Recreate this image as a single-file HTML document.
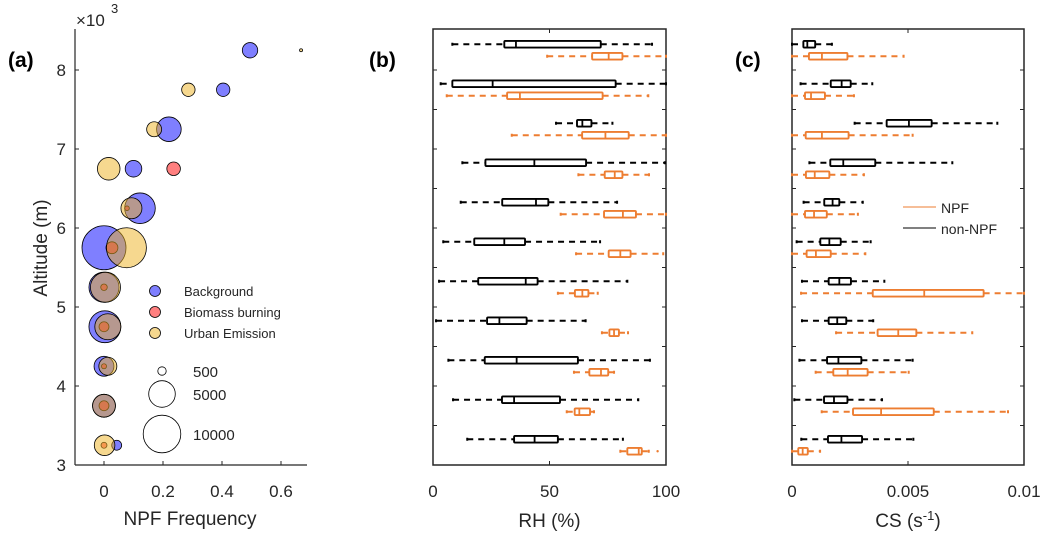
<!DOCTYPE html>
<html><head><meta charset="utf-8"><style>
body{margin:0;background:#fff;}
svg text{font-family:"Liberation Sans",sans-serif;fill:#262626;}
</style></head><body>
<svg id="chart" width="1050" height="543" xmlns="http://www.w3.org/2000/svg">
<g id="pa"></g>
<g id="pb"></g>
<g id="pc"></g>
</svg>
<script>
// ---- data ----
const altitudes=[8.25,7.75,7.25,6.75,6.25,5.75,5.25,4.75,4.25,3.75,3.25];
const bgFreq=[0.495,0.404,0.22,0.10,0.122,0.0,0.0,0.003,0.0,0.0,0.043];
const bgCount=[1680,1270,4280,1950,6620,13700,6400,7200,2800,3700,700];
const bbAlt=[6.75,6.25,5.75,5.25,4.75,4.25,3.75,3.25];
const bbFreq=[0.236,0.078,0.027,0.0,0.0,0.0,0.0,0.0];
const bbCount=[1300,150,1000,300,700,180,700,250];
const ueAlt=[8.25,7.75,7.25,6.75,6.25,5.75,5.25,4.75,4.25,3.75,3.25];
const ueFreq=[0.668,0.286,0.17,0.016,0.093,0.076,0.005,0.013,0.013,0.0,0.002];
const ueCount=[64,1270,1590,3610,3120,11300,6400,4800,2300,3700,3000];
const rhNon=[[8.3,30.6,35.6,72,94],[3.3,8.3,25.6,78.4,100],[52.8,61.8,64.1,68,77],[12.6,22.5,43.5,65.7,99.6],[11.9,29.7,44.2,49.5,79],[4.4,17.7,30.6,39.5,71.7],[2.6,19.4,39.8,44.9,83.4],[1.3,23.2,28.5,40.2,65.5],[6.6,22.2,35.9,62.2,93.1],[8.6,29.6,34.8,54.5,88.1],[14.7,34.8,43.6,53.6,81.5]];
const rhNpf=[[49,68.3,75.4,81.3,100],[5.9,31.8,37.3,72.8,92.4],[33.8,64,74,84,100],[62.4,73.7,78,81.3,92.7],[54.8,73.4,81.5,87.1,100],[61.4,75.4,80.4,84.8,98.8],[53.6,60.9,64.1,66.7,70.7],[72.5,75.7,77.7,79.8,83.7],[60.5,67.1,72.1,75.2,77.7],[57.4,60.8,62.8,67.4,69.1],[80.4,83.4,88.3,89.6,92.6]];
const rhOutliers=[[3.25,96.4]];
const csNon=[[0,0.00049,0.00066,0.001,0.00172],[0.00037,0.00167,0.00214,0.00253,0.00346],[0.0027,0.00408,0.00504,0.00602,0.00885],[0.00075,0.00165,0.00221,0.00359,0.00691],[0.0005,0.00139,0.00175,0.00204,0.00305],[0.0002,0.00122,0.00161,0.0021,0.00339],[0.00043,0.00158,0.00204,0.00254,0.00398],[0.00043,0.00158,0.00195,0.00234,0.0035],[0.00032,0.00151,0.002,0.00299,0.0052],[0.0001,0.00138,0.00181,0.00239,0.00388],[0.0004,0.00155,0.00213,0.00302,0.00523]];
const csNpf=[[0,0.00073,0.00129,0.00239,0.00481],[0,0.00056,0.00082,0.00142,0.00267],[0,0.00059,0.00129,0.00244,0.0052],[0,0.0006,0.00098,0.00161,0.0031],[0,0.00056,0.00095,0.0015,0.00284],[0,0.00063,0.00103,0.00167,0.00316],[0.00039,0.00348,0.0057,0.00826,0.01],[0.0019,0.00369,0.00458,0.00536,0.00777],[0.00102,0.00178,0.0024,0.00326,0.00503],[0.00128,0.00263,0.00384,0.00611,0.00931],[0,0.00027,0.00046,0.00068,0.00121]];
const yTicksA=[3,4,5,6,7,8];
const xTicksA=[0,0.2,0.4,0.6];
const xTicksB=[0,50,100];
const xTicksC=[0,0.005,0.01];
const yMinorTicks=[3.5,4,4.5,5,5.5,6,6.5,7,7.5,8];

const NS="http://www.w3.org/2000/svg";
function mk(parent,tag,attrs,text){const e=document.createElementNS(NS,tag);for(const k in attrs)e.setAttribute(k,attrs[k]);if(text!==undefined)e.textContent=text;parent.appendChild(e);return e;}
const Y=a=>465-(a-3)*79;
const XA=f=>104+f*295;
const XB=v=>433+v*2.33;
const XC=v=>792+v*23200;
const R=n=>0.188*Math.sqrt(n);

// ---- panel a ----
const pa=document.getElementById('pa');
let e;
e=mk(pa,'line',{x1:75,y1:29,x2:75,y2:465,stroke:'#262626','stroke-width':1.2});

e=mk(pa,'line',{x1:75,y1:465,x2:307,y2:465,stroke:'#262626','stroke-width':1.2});

yTicksA.forEach(t=>{mk(pa,'line',{x1:75,y1:Y(t),x2:79,y2:Y(t),stroke:'#262626'});
 e=mk(pa,'text',{x:66,y:Y(t)+6,'font-size':17,'text-anchor':'end'},String(t));
 });
xTicksA.forEach(t=>{mk(pa,'line',{x1:XA(t),y1:465,x2:XA(t),y2:461,stroke:'#262626'});
 e=mk(pa,'text',{x:XA(t),y:497,'font-size':17,'text-anchor':'middle'},String(t));
 });
function bubbles(alts,fr,cn,fill,name){alts.forEach((a,i)=>{e=mk(pa,'circle',{cx:XA(fr[i]),cy:Y(a),r:R(cn[i]),fill:fill,stroke:'#000','stroke-width':0.8});
 });}
bubbles(altitudes,bgFreq,bgCount,'rgba(0,0,255,0.5)','bubble-background');
bubbles(bbAlt,bbFreq,bbCount,'rgba(255,0,0,0.5)','bubble-biomass');
bubbles(ueAlt,ueFreq,ueCount,'rgba(237,177,32,0.5)','bubble-urban');
[['Background','rgba(0,0,255,0.5)',291],['Biomass burning','rgba(255,0,0,0.5)',312],['Urban Emission','rgba(237,177,32,0.5)',333]].forEach(l=>{
 e=mk(pa,'circle',{cx:155,cy:l[2],r:5.5,fill:l[1],stroke:'#000','stroke-width':0.8});
 e=mk(pa,'text',{x:184,y:l[2]+5,'font-size':13},l[0]);});
[[500,371],[5000,394],[10000,434]].forEach(s=>{
 e=mk(pa,'circle',{cx:162,cy:s[1],r:R(s[0]),fill:'none',stroke:'#000','stroke-width':0.8});
 e=mk(pa,'text',{x:193,y:s[1]+6,'font-size':15},String(s[0]));});
e=mk(pa,'text',{x:8,y:67,'font-size':21,'font-weight':'bold',style:'fill:#000'},'(a)');
e=mk(pa,'text',{x:76,y:26,'font-size':17},'×10');
mk(pa,'text',{x:111,y:13,'font-size':13},'3');
e=mk(pa,'text',{x:0,y:0,'font-size':19,'text-anchor':'middle',transform:'translate(47,248) rotate(-90)'},'Altitude (m)');
e=mk(pa,'text',{x:190,y:525,'font-size':19,'text-anchor':'middle'},'NPF Frequency');

// ---- box panels ----
function boxPanel(g,X,x0,x1,xt,fmt,non,npf,label,lx,title){
 e=mk(g,'rect',{x:x0,y:29,width:x1-x0,height:436,fill:'none',stroke:'#262626','stroke-width':1.5});
 
 yMinorTicks.forEach(t=>{mk(g,'line',{x1:x0,y1:Y(t),x2:x0+4,y2:Y(t),stroke:'#262626'});mk(g,'line',{x1:x1,y1:Y(t),x2:x1-4,y2:Y(t),stroke:'#262626'});});
 xt.forEach((t,i)=>{const x=X(t);mk(g,'line',{x1:x,y1:29,x2:x,y2:33,stroke:'#262626'});mk(g,'line',{x1:x,y1:465,x2:x,y2:461,stroke:'#262626'});
  e=mk(g,'text',{x:x,y:497,'font-size':17,'text-anchor':'middle'},fmt[i]);});
 function draw(d,cy,col,name){
  const [wl,q1,md,q3,wh]=d.map(X);
  const gg=mk(g,'g',{});
  mk(gg,'line',{x1:wl,y1:cy,x2:q1,y2:cy,stroke:col,'stroke-width':2,'stroke-dasharray':'6,5'});
  mk(gg,'line',{x1:q3,y1:cy,x2:wh,y2:cy,stroke:col,'stroke-width':2,'stroke-dasharray':'6,5'});
  mk(gg,'line',{x1:wl,y1:cy-1.5,x2:wl,y2:cy+1.5,stroke:col,'stroke-width':2});
  mk(gg,'line',{x1:wh,y1:cy-1.5,x2:wh,y2:cy+1.5,stroke:col,'stroke-width':2});
  mk(gg,'rect',{x:q1,y:cy-3.3,width:Math.max(q3-q1,1),height:6.6,fill:'#fff',stroke:col,'stroke-width':1.9,rx:1});
  mk(gg,'line',{x1:md,y1:cy-3.3,x2:md,y2:cy+3.3,stroke:col,'stroke-width':1.8});
 }
 altitudes.forEach((a,i)=>{draw(non[i],Y(a)-6,'#000','box-non-npf');draw(npf[i],Y(a)+6,'#ED7D31','box-npf');});
 e=mk(g,'text',{x:lx,y:67,'font-size':21,'font-weight':'bold',style:'fill:#000'},label);
 e=mk(g,'text',{x:(x0+x1)/2,y:527,'font-size':19,'text-anchor':'middle'},title);
 return g;
}
const pb=boxPanel(document.getElementById('pb'),XB,433,666,xTicksB,['0','50','100'],rhNon,rhNpf,'(b)',369,'RH (%)');
rhOutliers.forEach(o=>{e=mk(pb,'circle',{cx:XB(o[1]),cy:Y(o[0])+6,r:1.2,fill:'#ED7D31'});});
const pc=boxPanel(document.getElementById('pc'),XC,792,1024,xTicksC,['0','0.005','0.01'],csNon,csNpf,'(c)',735,'');
e=mk(pc,'text',{x:908,y:527,'font-size':19,'text-anchor':'middle'});
e.innerHTML='CS (s<tspan dy="-7" font-size="13">-1</tspan><tspan dy="7">)</tspan>';
e=mk(pc,'line',{x1:903,y1:207,x2:936,y2:207,stroke:'#ED7D31','stroke-width':1});
e=mk(pc,'text',{x:941,y:213,'font-size':14},'NPF');
e=mk(pc,'line',{x1:903,y1:228,x2:936,y2:228,stroke:'#000','stroke-width':1});
e=mk(pc,'text',{x:941,y:234,'font-size':14},'non-NPF');
</script>
</body></html>
